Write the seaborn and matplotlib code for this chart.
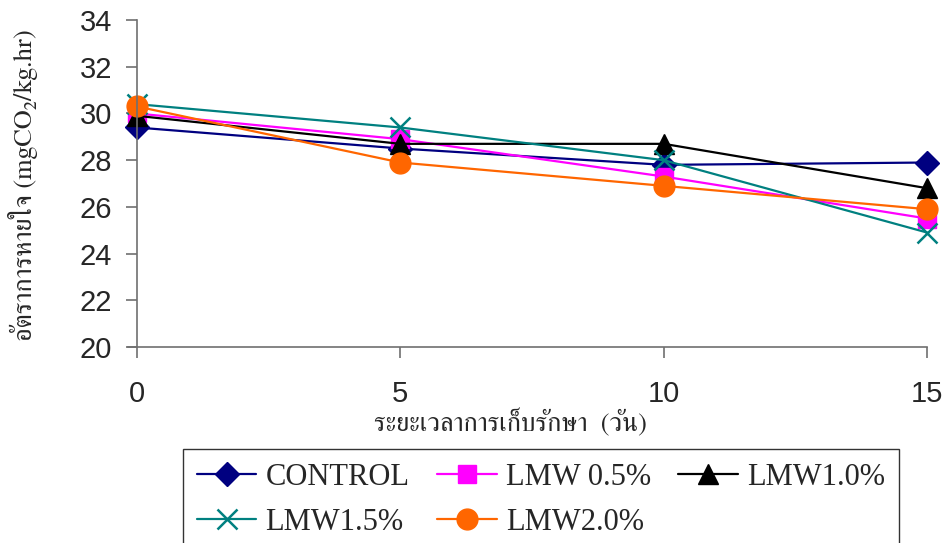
import matplotlib
matplotlib.use("Agg")
import matplotlib.pyplot as plt
import numpy as np
import pandas as pd
import seaborn as sns

# Storage time (days) and respiration rate of each treatment
days = [0, 5, 10, 15]
control = [29.4, 28.5, 27.8, 27.9]
lmw_05 = [30.0, 28.9, 27.3, 25.5]
lmw_10 = [29.9, 28.7, 28.7, 26.8]
lmw_15 = [30.4, 29.4, 28.0, 24.9]
lmw_20 = [30.3, 27.9, 26.9, 25.9]

series_names = ["CONTROL", "LMW 0.5%", "LMW1.0%", "LMW1.5%", "LMW2.0%"]
series_values = [control, lmw_05, lmw_10, lmw_15, lmw_20]
y_ticks = [20, 22, 24, 26, 28, 30, 32, 34]
x_ticks = [0, 5, 10, 15]

x_label = "ระยะเวลาการเก็บรักษา  (วัน)"
y_label = "อัตราการหายใจ (mgCO\u2082/kg.hr)"

df = pd.DataFrame({
    "day": np.tile(days, len(series_names)),
    "rate": np.concatenate(series_values),
    "treatment": np.repeat(series_names, len(days)),
})

styles = {
    "CONTROL": dict(color="#000080", marker="D", ms=12),
    "LMW 0.5%": dict(color="#FF00FF", marker="s", ms=13),
    "LMW1.0%": dict(color="#000000", marker="^", ms=15),
    "LMW1.5%": dict(color="#008080", marker="x", ms=14, mew=1.8),
    "LMW2.0%": dict(color="#FF6600", marker="o", ms=15),
}

sns.set_style("white")
plt.rcParams["font.family"] = ["Liberation Sans", "DejaVu Sans"]

fig = plt.figure(figsize=(9.48, 5.43), dpi=100)
ax = fig.add_axes([0.1445, 0.361, 0.8335, 0.602])

for name in series_names:
    st = styles[name]
    sub = df[df["treatment"] == name]
    sns.lineplot(
        data=sub, x="day", y="rate", ax=ax, color=st["color"],
        marker=st["marker"], markersize=st["ms"],
        markeredgecolor=st["color"], markeredgewidth=st.get("mew", 1.0),
        linewidth=1.6, label=name, clip_on=False, legend=False,
    )

ax.set_xlim(0, 15)
ax.set_ylim(20, 34)
ax.set_xticks(x_ticks)
ax.set_yticks(y_ticks)
ax.tick_params(axis="both", labelsize=21, direction="out", length=8,
               width=1.2, color="#707070", left=True, bottom=True)
ax.tick_params(axis="y", pad=10)
ax.tick_params(axis="x", pad=16)

for side in ["top", "right"]:
    ax.spines[side].set_visible(False)
for side in ["left", "bottom"]:
    ax.spines[side].set_color("#707070")
    ax.spines[side].set_linewidth(1.2)
ax.spines["bottom"].set_bounds(-0.17, 15)

ax.set_xlabel(x_label, fontsize=19, family=["FreeSerif"])
ax.set_ylabel(y_label, fontsize=19, family=["FreeSerif"])
ax.xaxis.set_label_coords(0.473, -0.19)
ax.yaxis.set_label_coords(-0.125, 0.495)

handles, labels = ax.get_legend_handles_labels()
lookup = dict(zip(labels, handles))
order = ["CONTROL", "LMW1.5%", "LMW 0.5%", "LMW2.0%", "LMW1.0%"]
leg = fig.legend(
    [lookup[k] for k in order], order,
    ncol=3, loc="upper left", bbox_to_anchor=(0.193, 0.173),
    bbox_transform=fig.transFigure, frameon=True, fancybox=False,
    prop={"family": "Liberation Serif", "size": 22},
    handlelength=1.95, handletextpad=0.3, columnspacing=0.9,
    labelspacing=0.52, borderpad=0.45, borderaxespad=0,
)
leg.get_frame().set_edgecolor("#000000")
leg.get_frame().set_linewidth(1.0)

fig.savefig("out.png", dpi=100)
